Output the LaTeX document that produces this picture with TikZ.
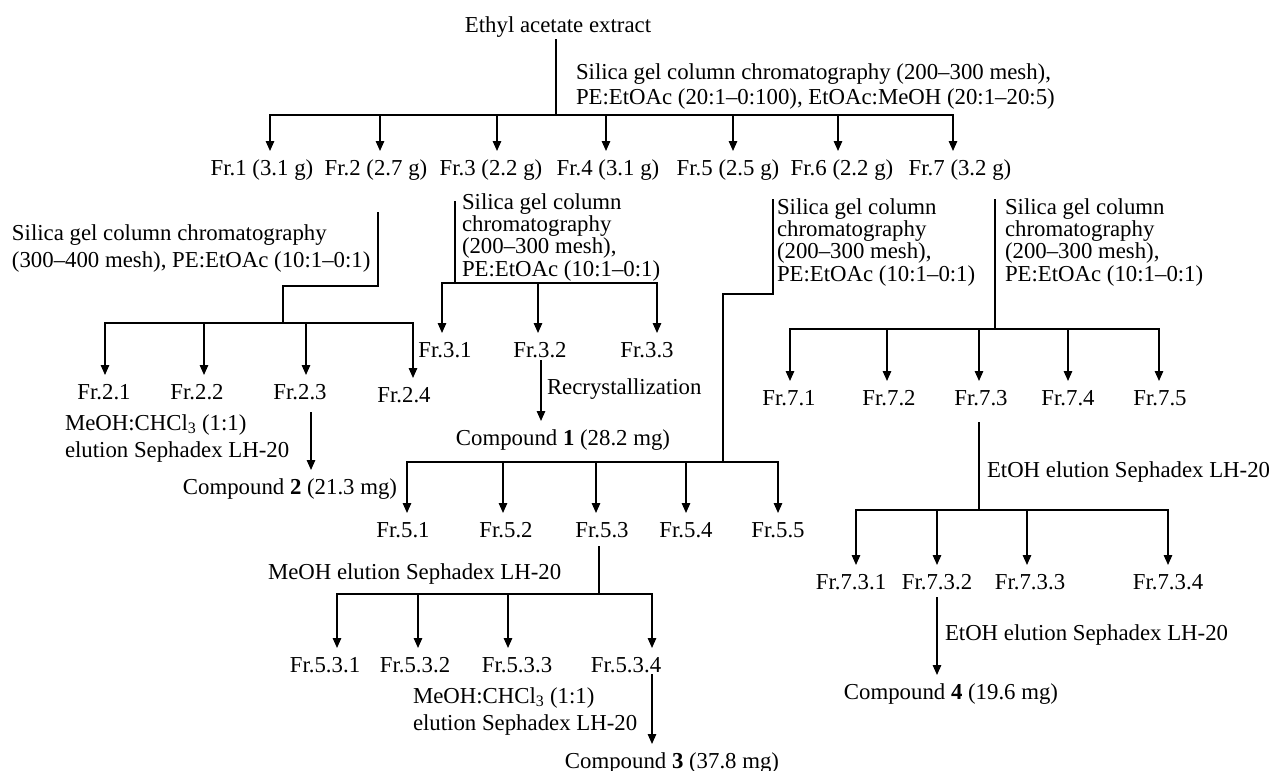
\documentclass[tikz,border=0pt]{standalone}
\usepackage{fontspec}
\setmainfont{Liberation Serif}
\usetikzlibrary{arrows.meta}
\begin{document}
\begin{tikzpicture}[x=1pt,y=-1pt,
  every node/.style={font=\fontsize{22.8}{22.2}\selectfont, inner sep=0pt, outer sep=0pt},
  lab/.style={anchor=base, text height=16pt, text depth=5pt},
  note/.style={anchor=base west, align=left},
  ln/.style={line width=1.4pt, line cap=rect, line join=miter},
  arr/.style={ln, -{Triangle[width=8.5pt,length=10pt]}, shorten >=8.5pt},
]
\useasboundingbox (0,0) rectangle (1269,771);

% ---------- level 0 ----------
\node[lab] (eth) at (558,32.5) {Ethyl acetate extract};
\node[note] (s1) at (576,104.5) {Silica gel column chromatography (200–300 mesh),\\[2.8pt]PE:EtOAc (20:1–0:100), EtOAc:MeOH (20:1–20:5)};
\coordinate (j0) at (556,115);
\draw[ln, shorten <=2.5pt] (eth.south -| j0) -- (j0);

\coordinate (a1) at (270,115);
\coordinate (a2) at (380,115);
\coordinate (a3) at (497,115);
\coordinate (a4) at (606,115);
\coordinate (a5) at (733,115);
\coordinate (a6) at (838,115);
\coordinate (a7) at (953,115);
\node[lab] (fr1) at (262,175.5) {Fr.1 (3.1 g)};
\node[lab] (fr2) at (376,175.5) {Fr.2 (2.7 g)};
\node[lab] (fr3) at (491,175.5) {Fr.3 (2.2 g)};
\node[lab] (fr4) at (608,175.5) {Fr.4 (3.1 g)};
\node[lab] (fr5) at (728,175.5) {Fr.5 (2.5 g)};
\node[lab] (fr6) at (842,175.5) {Fr.6 (2.2 g)};
\node[lab] (fr7) at (960,175.5) {Fr.7 (3.2 g)};
\draw[ln] (a1) -- (a7);
\foreach \n in {1,...,7} \draw[arr] (a\n) -- (a\n |- fr\n.north);

% ---------- Fr.2 ----------
\coordinate (t2) at (378,213);
\coordinate (k2) at (283,286);
\coordinate (j2) at (283,323);
\draw[ln] (t2) |- (k2) -- (j2);
\node[note] (s2) at (12,267.5) {Silica gel column chromatography\\[4.8pt](300–400 mesh), PE:EtOAc (10:1–0:1)};
\coordinate (b21) at (105,323);
\coordinate (b22) at (204,323);
\coordinate (b23) at (306,323);
\coordinate (b24) at (413,323);
\node[lab] (fr21) at (104,399.5) {Fr.2.1};
\node[lab] (fr22) at (197,399.5) {Fr.2.2};
\node[lab] (fr23) at (300,399.5) {Fr.2.3};
\node[lab] (fr24) at (404,402.5) {Fr.2.4};
\draw[ln] (b21) -- (b24);
\foreach \n in {1,...,4} \draw[arr] (b2\n) -- (b2\n |- fr2\n.north);
\node[note] (m2) at (65,457.5) {MeOH:CHCl\textsubscript{3} (1:1)\\[4.8pt]elution Sephadex LH-20};
\node[lab] (c2) at (290,494.5) {Compound \textbf{2} (21.3 mg)};
\coordinate (x23) at (311,413);
\draw[arr] (x23) -- (x23 |- c2.north);

% ---------- Fr.3 ----------
\coordinate (t3) at (455,202);
\coordinate (j3) at (455,283);
\draw[ln] (t3) -- (j3);
\node[note] (s3) at (462,276.1) {Silica gel column\\chromatography\\(200–300 mesh),\\PE:EtOAc (10:1–0:1)};
\coordinate (b31) at (442,283);
\coordinate (b32) at (538,283);
\coordinate (b33) at (657,283);
\node[lab] (fr31) at (445,357.5) {Fr.3.1};
\node[lab] (fr32) at (540,357.5) {Fr.3.2};
\node[lab] (fr33) at (647,357.5) {Fr.3.3};
\draw[ln] (b31) -- (b33);
\foreach \n in {1,...,3} \draw[arr] (b3\n) -- (b3\n |- fr3\n.north);
\node[note] (r1) at (547,394.5) {Recrystallization};
\node[lab] (c1) at (563,445.5) {Compound \textbf{1} (28.2 mg)};
\coordinate (x32) at (541,361);
\draw[arr] (x32) -- (x32 |- c1.north);

% ---------- Fr.5 ----------
\coordinate (t5) at (773,200);
\coordinate (k5) at (723,294);
\coordinate (j5) at (723,462);
\draw[ln] (t5) |- (k5) -- (j5);
\node[note] (s5) at (777,281.1) {Silica gel column\\chromatography\\(200–300 mesh),\\PE:EtOAc (10:1–0:1)};
\coordinate (b51) at (407,462);
\coordinate (b52) at (503,462);
\coordinate (b53) at (596,462);
\coordinate (b54) at (686,462);
\coordinate (b55) at (778,462);
\node[lab] (fr51) at (403,537.5) {Fr.5.1};
\node[lab] (fr52) at (506,537.5) {Fr.5.2};
\node[lab] (fr53) at (602,537.5) {Fr.5.3};
\node[lab] (fr54) at (686,537.5) {Fr.5.4};
\node[lab] (fr55) at (778,537.5) {Fr.5.5};
\draw[ln] (b51) -- (b55);
\foreach \n in {1,...,5} \draw[arr] (b5\n) -- (b5\n |- fr5\n.north);

\coordinate (t53) at (599,547);
\coordinate (j53) at (599,594);
\draw[ln] (t53) -- (j53);
\node[note] (m5) at (268,579.5) {MeOH elution Sephadex LH-20};
\coordinate (b531) at (337,594);
\coordinate (b532) at (418,594);
\coordinate (b533) at (508,594);
\coordinate (b534) at (652,594);
\node[lab] (fr531) at (325,672.5) {Fr.5.3.1};
\node[lab] (fr532) at (415,672.5) {Fr.5.3.2};
\node[lab] (fr533) at (517,672.5) {Fr.5.3.3};
\node[lab] (fr534) at (626,672.5) {Fr.5.3.4};
\draw[ln] (b531) -- (b534);
\foreach \n in {1,...,4} \draw[arr] (b53\n) -- (b53\n |- fr53\n.north);
\node[note] (m53) at (413,730.5) {MeOH:CHCl\textsubscript{3} (1:1)\\[4.8pt]elution Sephadex LH-20};
\node[lab] (c3) at (672,768.5) {Compound \textbf{3} (37.8 mg)};
\coordinate (x534) at (652,675);
\draw[arr] (x534) -- (x534 |- c3.north);

% ---------- Fr.7 ----------
\coordinate (t7) at (995,200);
\coordinate (j7) at (995,329);
\draw[ln] (t7) -- (j7);
\node[note] (s7) at (1005,281.1) {Silica gel column\\chromatography\\(200–300 mesh),\\PE:EtOAc (10:1–0:1)};
\coordinate (b71) at (790,329);
\coordinate (b72) at (887,329);
\coordinate (b73) at (979,329);
\coordinate (b74) at (1068,329);
\coordinate (b75) at (1159,329);
\node[lab] (fr71) at (789,405.5) {Fr.7.1};
\node[lab] (fr72) at (889,405.5) {Fr.7.2};
\node[lab] (fr73) at (981,405.5) {Fr.7.3};
\node[lab] (fr74) at (1068,405.5) {Fr.7.4};
\node[lab] (fr75) at (1160,405.5) {Fr.7.5};
\draw[ln] (b71) -- (b75);
\foreach \n in {1,...,5} \draw[arr] (b7\n) -- (b7\n |- fr7\n.north);

\coordinate (t73) at (979,423);
\coordinate (j73) at (979,510);
\draw[ln] (t73) -- (j73);
\node[note] (e7) at (987,477.5) {EtOH elution Sephadex LH-20};
\coordinate (b731) at (856,510);
\coordinate (b732) at (937,510);
\coordinate (b733) at (1027,510);
\coordinate (b734) at (1168,510);
\node[lab] (fr731) at (851,589.5) {Fr.7.3.1};
\node[lab] (fr732) at (937,589.5) {Fr.7.3.2};
\node[lab] (fr733) at (1030,589.5) {Fr.7.3.3};
\node[lab] (fr734) at (1168,589.5) {Fr.7.3.4};
\draw[ln] (b731) -- (b734);
\foreach \n in {1,...,4} \draw[arr] (b73\n) -- (b73\n |- fr73\n.north);
\node[note] (e73) at (945,640.5) {EtOH elution Sephadex LH-20};
\node[lab] (c4) at (951,699.5) {Compound \textbf{4} (19.6 mg)};
\coordinate (x732) at (937,598);
\draw[arr] (x732) -- (x732 |- c4.north);
\end{tikzpicture}
\end{document}
